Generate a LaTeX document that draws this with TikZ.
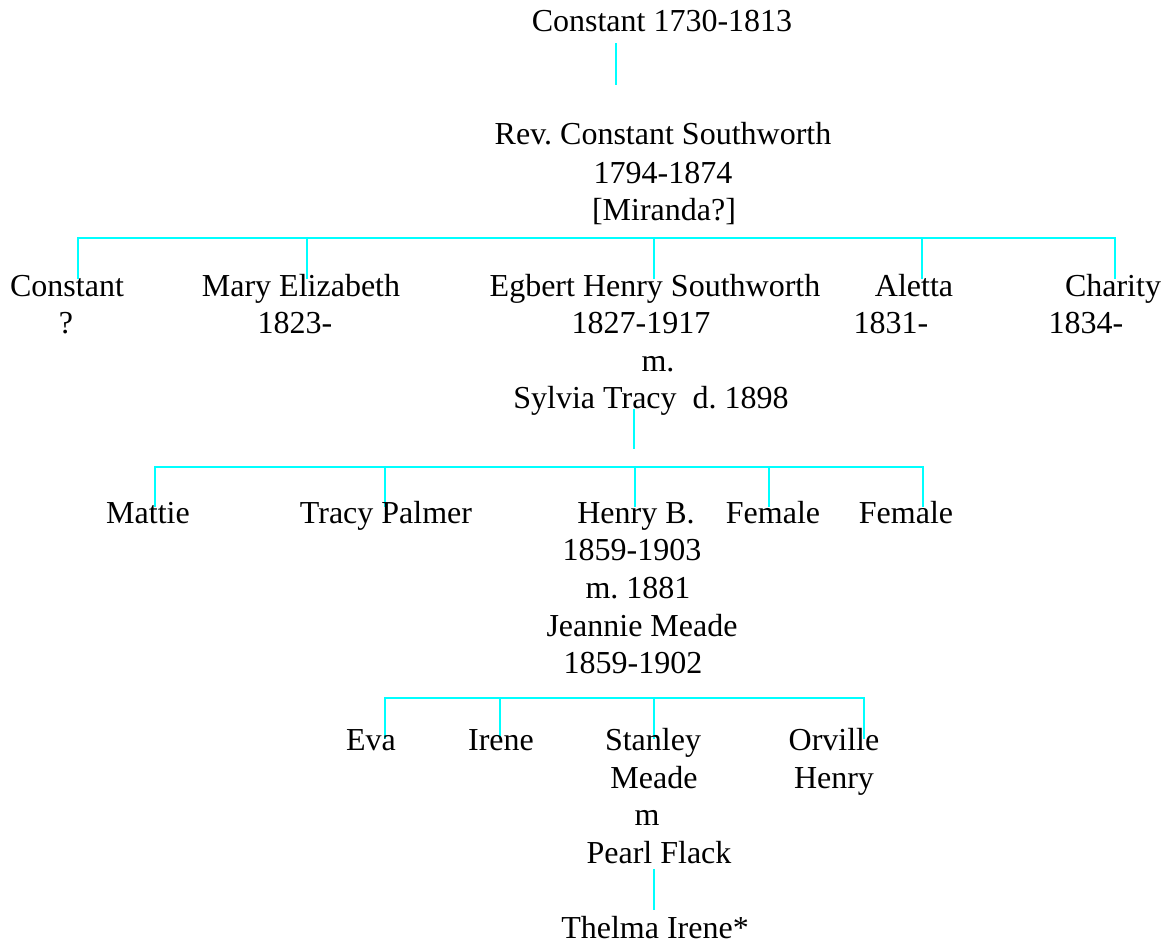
\documentclass[tikz,border=0pt]{standalone}
\usepackage{fontspec}
\setmainfont{Liberation Serif}
\usepackage{tikz}
\usetikzlibrary{positioning}
\definecolor{lineCyan}{RGB}{0, 255, 255}

\tikzset{
    person/.style={anchor=base, inner sep=0pt, font=\fontsize{32}{37.5}\selectfont\frenchspacing},
    kin/.style={lineCyan, line width=2.5pt, line cap=rect}
}

\begin{document}
\begin{tikzpicture}[x=1pt, y=-1pt]
        \useasboundingbox (0,0) rectangle (1166,944);

        % 1. Generation
        \node[person] (constant) at (662,32) {Constant 1730-1813};
        \coordinate (c0top) at (616,44);
        \coordinate (c0bot) at (616,84);
        \draw[kin] (c0top) -- (c0bot);

        % 2. Generation
        \node[person] (rev) at (663,145) {Rev. Constant Southworth};
        \node[person] (revDates) at (663,183) {1794-1874};
        \node[person] (miranda) at (664,220) {[Miranda?]};

        % Kinder von Rev. Constant
        \coordinate (bar1L) at (78,238);
        \coordinate (bar1R) at (1115,238);
        \coordinate (dCjr) at (78,278);
        \coordinate (dMary) at (307,278);
        \coordinate (dEgbert) at (654,278);
        \coordinate (dAletta) at (922,278);
        \coordinate (dCharity) at (1115,278);
        \draw[kin] (bar1L) -- (bar1R);
        \foreach \d in {dCjr, dMary, dEgbert, dAletta, dCharity}
            \draw[kin] (\d |- bar1L) -- (\d);

        \node[person] (cjr) at (67,296) {Constant};
        \node[person] (cjrDates) at (66,333) {?};
        \node[person] (mary) at (301,296) {Mary Elizabeth};
        \node[person] (maryDates) at (295,333) {1823-};
        \node[person] (egbert) at (655,296) {Egbert Henry Southworth};
        \node[person] (egbertDates) at (641,333) {1827-1917};
        \node[person] (egbertM) at (658,371) {m.};
        \node[person] (sylvia) at (651,408) {Sylvia Tracy~~d. 1898};
        \node[person] (aletta) at (914,296) {Aletta};
        \node[person] (alettaDates) at (891,333) {1831-};
        \node[person] (charity) at (1113,296) {Charity};
        \node[person] (charityDates) at (1086,333) {1834-};

        % Kinder von Egbert
        \coordinate (s1top) at (634,410);
        \coordinate (s1bot) at (634,448);
        \draw[kin] (s1top) -- (s1bot);
        \coordinate (bar2L) at (155,467);
        \coordinate (bar2R) at (923,467);
        \coordinate (dMattie) at (155,506);
        \coordinate (dTracy) at (385,506);
        \coordinate (dHenry) at (635,506);
        \coordinate (dFemaleA) at (769,506);
        \coordinate (dFemaleB) at (923,506);
        \draw[kin] (bar2L) -- (bar2R);
        \foreach \d in {dMattie, dTracy, dHenry, dFemaleA, dFemaleB}
            \draw[kin] (\d |- bar2L) -- (\d);

        \node[person] (mattie) at (148,523) {Mattie};
        \node[person] (tracy) at (386,523) {Tracy Palmer};
        \node[person] (henry) at (636,523) {Henry B.};
        \node[person] (femaleA) at (773,523) {Female};
        \node[person] (femaleB) at (906,523) {Female};
        \node[person] (henryDates) at (632,560) {1859-1903};
        \node[person] (henryM) at (638,598) {m. 1881};
        \node[person] (jeannie) at (642,636) {Jeannie Meade};
        \node[person] (jeannieDates) at (633,673) {1859-1902};

        % Kinder von Henry B.
        \coordinate (bar3L) at (385,698);
        \coordinate (bar3R) at (864,698);
        \coordinate (dEva) at (385,738);
        \coordinate (dIrene) at (500,738);
        \coordinate (dStanley) at (654,738);
        \coordinate (dOrville) at (864,738);
        \draw[kin] (bar3L) -- (bar3R);
        \foreach \d in {dEva, dIrene, dStanley, dOrville}
            \draw[kin] (\d |- bar3L) -- (\d);

        \node[person] (eva) at (371,750) {Eva};
        \node[person] (irene) at (501,750) {Irene};
        \node[person] (stanley) at (653,750) {Stanley};
        \node[person] (stanleyB) at (654,788) {Meade};
        \node[person] (stanleyM) at (647,825) {m};
        \node[person] (pearl) at (659,863) {Pearl Flack};
        \node[person] (orville) at (834,750) {Orville};
        \node[person] (orvilleB) at (834,788) {Henry};

        % 5. Generation
        \coordinate (p1top) at (654,870);
        \coordinate (p1bot) at (654,909);
        \draw[kin] (p1top) -- (p1bot);
        \node[person] (thelma) at (655,938) {Thelma Irene*};
    \end{tikzpicture}
\end{document}
